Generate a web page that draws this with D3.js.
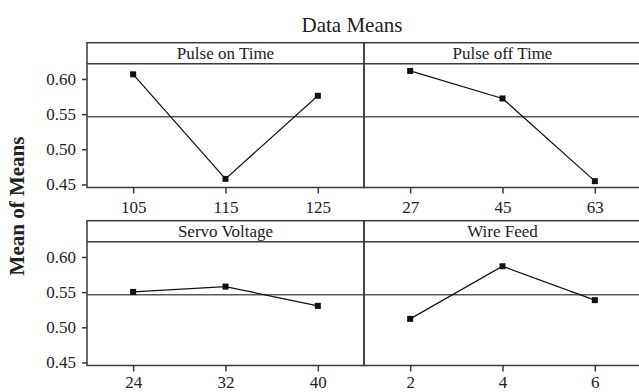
<!DOCTYPE html>
<html>
<head>
<meta charset="utf-8">
<script src="https://cdn.jsdelivr.net/npm/d3@7/dist/d3.min.js"></script>
<style>
  html, body { margin: 0; padding: 0; background: #fff; }
  svg text { font-family: 'Liberation Serif', 'Times New Roman', Times, 'DejaVu Serif', serif; }
</style>
</head>
<body>
<svg id="chart" width="639" height="392"></svg>
<script>
// data
const factors = ['Pulse on Time', 'Pulse off Time', 'Servo Voltage', 'Wire Feed'];
const levels = [
  ['105', '115', '125'],
  ['27', '45', '63'],
  ['24', '32', '40'],
  ['2', '4', '6']
];
const means = [
  [0.6066, 0.4580, 0.5761],
  [0.6114, 0.5723, 0.4547],
  [0.5503, 0.5579, 0.5305],
  [0.5120, 0.5868, 0.5386]
];
const grandMean = 0.5464;
const yTicks = [0.45, 0.50, 0.55, 0.60];

const svg = d3.select('#chart');

// panel grid
const left = 87, panelW = 277;
const rowTops = [42.7, 220.7];
const stripH = 21, plotH = 123.8;
const frameColor = '#3a3a3a';

const y = d3.scaleLinear().domain([0.4457, 0.6217]).range([plotH, 0]);

svg.append('text')
  .attr('x', 352)
  .attr('y', 31.7)
  .attr('text-anchor', 'middle')
  .attr('font-size', 21)
  .attr('fill', '#222')
  .text('Data Means');

svg.append('text')
  .attr('transform', 'translate(24,206) rotate(-90)')
  .attr('text-anchor', 'middle')
  .attr('font-size', 21)
  .attr('font-weight', 'bold')
  .attr('fill', '#222')
  .text('Mean of Means');

factors.forEach((name, i) => {
  const col = i % 2, row = Math.floor(i / 2);
  const gx = left + col * panelW, gy = rowTops[row];
  const g = svg.append('g').attr('transform', `translate(${gx},${gy})`);
  const plot = g.append('g').attr('transform', `translate(0,${stripH})`);

  const x = d3.scalePoint().domain(levels[i]).range([0, panelW]).padding(0.5);

  // strip title
  g.append('text')
    .attr('x', panelW / 2)
    .attr('y', 16.6)
    .attr('text-anchor', 'middle')
    .attr('font-size', 17)
    .attr('fill', '#222')
    .text(name);

  // reference line at grand mean
  plot.append('line')
    .attr('x1', 0).attr('x2', panelW)
    .attr('y1', y(grandMean)).attr('y2', y(grandMean))
    .attr('stroke', '#5a5a5a')
    .attr('stroke-width', 1.5);

  // x axis
  const xAxis = plot.append('g')
    .attr('transform', `translate(0,${plotH})`)
    .call(d3.axisBottom(x).tickSize(6).tickPadding(row === 0 ? 7 : 4));
  xAxis.select('.domain').remove();
  xAxis.selectAll('line').attr('stroke', frameColor).attr('stroke-width', 1.5);
  xAxis.selectAll('text')
    .attr('font-size', 17)
    .attr('fill', '#222');

  // y axis on left column only
  if (col === 0) {
    const yAxis = plot.append('g')
      .call(d3.axisLeft(y).tickValues(yTicks).tickFormat(d3.format('.2f')).tickSize(5).tickPadding(6));
    yAxis.select('.domain').remove();
    yAxis.selectAll('line').attr('stroke', frameColor).attr('stroke-width', 1.5);
    yAxis.selectAll('text')
      .attr('font-size', 17)
      .attr('fill', '#222');
  }

  // series line + markers
  const pts = levels[i].map((lv, j) => ({ lv, v: means[i][j] }));
  plot.append('path')
    .datum(pts)
    .attr('fill', 'none')
    .attr('stroke', '#111')
    .attr('stroke-width', 1.2)
    .attr('d', d3.line().x((d) => x(d.lv)).y((d) => y(d.v)));

  plot.selectAll('rect.pt')
    .data(pts)
    .enter()
    .append('rect')
    .attr('class', 'pt')
    .attr('x', (d) => x(d.lv) - 3)
    .attr('y', (d) => y(d.v) - 3)
    .attr('width', 6)
    .attr('height', 6)
    .attr('fill', '#111');

  // frame: outer box and strip separator
  g.append('rect')
    .attr('width', panelW)
    .attr('height', stripH + plotH)
    .attr('fill', 'none')
    .attr('stroke', frameColor)
    .attr('stroke-width', 1.5);
  g.append('line')
    .attr('x1', 0).attr('x2', panelW)
    .attr('y1', stripH).attr('y2', stripH)
    .attr('stroke', frameColor)
    .attr('stroke-width', 1.5);
});
</script>
</body>
</html>
